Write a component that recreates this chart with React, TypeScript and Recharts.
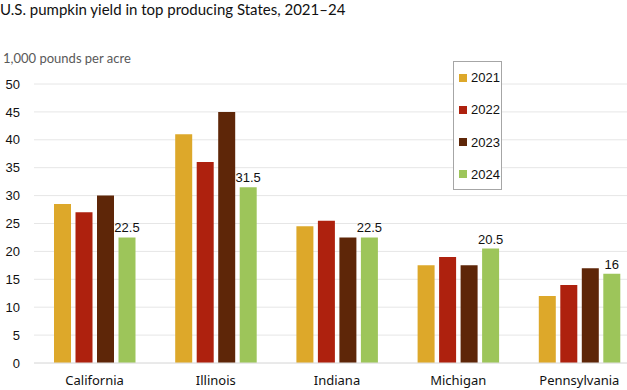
import React from "react";
import { BarChart, Bar, XAxis, YAxis, CartesianGrid, LabelList } from "recharts";

const states = ["California", "Illinois", "Indiana", "Michigan", "Pennsylvania"];
const y2021 = [28.5, 41, 24.5, 17.5, 12];
const y2022 = [27, 36, 25.5, 19, 14];
const y2023 = [30, 45, 22.5, 17.5, 17];
const y2024 = [22.5, 31.5, 22.5, 20.5, 16];
const yTicks = [0, 5, 10, 15, 20, 25, 30, 35, 40, 45, 50];
const seriesNames = ["2021", "2022", "2023", "2024"];
const colors = ["#DDA82A", "#AE210E", "#5E2608", "#9DC55A"];

const data = states.map((s, i) => ({
  state: s,
  "2021": y2021[i],
  "2022": y2022[i],
  "2023": y2023[i],
  "2024": y2024[i],
}));

const LegendBox = () => (
  <div
    style={{
      position: "absolute",
      left: 453,
      top: 61,
      border: "1px solid #a6a6a6",
      width: 49,
      height: 129,
      boxSizing: "border-box",
      background: "#fff",
    }}
  >
    {seriesNames.map((n, i) => (
      <div
        key={n}
        style={{
          position: "absolute",
          left: 5,
          top: 8 + i * 32.3,
          display: "flex",
          alignItems: "center",
          fontFamily: "'Liberation Sans', Arial, sans-serif",
          fontSize: 13,
          color: "#111",
          lineHeight: "15px",
        }}
      >
        <span style={{ display: "inline-block", width: 8, height: 8, background: colors[i], marginRight: 4 }} />
        {n}
      </div>
    ))}
  </div>
);

export default function App() {
  return (
    <div style={{ position: "absolute", left: 0, top: 0, width: 627, height: 390, overflow: "hidden", background: "#fff" }}>
      <div
        style={{
          position: "absolute",
          left: 0,
          top: 0,
          fontFamily: "Lato, sans-serif",
          fontSize: 15,
          color: "#111",
          whiteSpace: "nowrap",
          lineHeight: "18px",
        }}
      >
        U.S. pumpkin yield in top producing States, 2021–24
      </div>
      <div
        style={{
          position: "absolute",
          left: 3,
          top: 50,
          fontFamily: "Lato, sans-serif",
          fontSize: 13,
          color: "#595959",
          whiteSpace: "nowrap",
          lineHeight: "16px",
        }}
      >
        1,000 pounds per acre
      </div>
      <BarChart
        width={640}
        height={390}
        data={data}
        margin={{ top: 84, right: 0, bottom: 0, left: 0 }}
        barSize={17}
        barGap={4.5}
      >
        <CartesianGrid vertical={false} stroke="#e6e6e6" />
        <XAxis
          dataKey="state"
          height={27}
          tickLine={false}
          axisLine={{ stroke: "#e0e0e0" }}
          tickSize={0}
          tickMargin={13}
          interval={0}
          tick={{ fontFamily: "'Noto Sans', sans-serif", fontSize: 13, fill: "#111" }}
        />
        <YAxis
          width={34}
          domain={[0, 50]}
          ticks={yTicks}
          interval={0}
          tickLine={false}
          axisLine={false}
          tickSize={0}
          tickMargin={14}
          tick={{ fontFamily: "'Liberation Sans', Arial, sans-serif", fontSize: 13, fill: "#111" }}
        />
        {seriesNames.map((n, i) => (
          <Bar key={n} dataKey={n} fill={colors[i]} isAnimationActive={false}>
            {n === "2024" ? (
              <LabelList
                dataKey={n}
                position="top"
                offset={5}
                style={{ fontFamily: "'Liberation Sans', Arial, sans-serif", fontSize: 13, fill: "#111" }}
              />
            ) : null}
          </Bar>
        ))}
      </BarChart>
      <LegendBox />
    </div>
  );
}
